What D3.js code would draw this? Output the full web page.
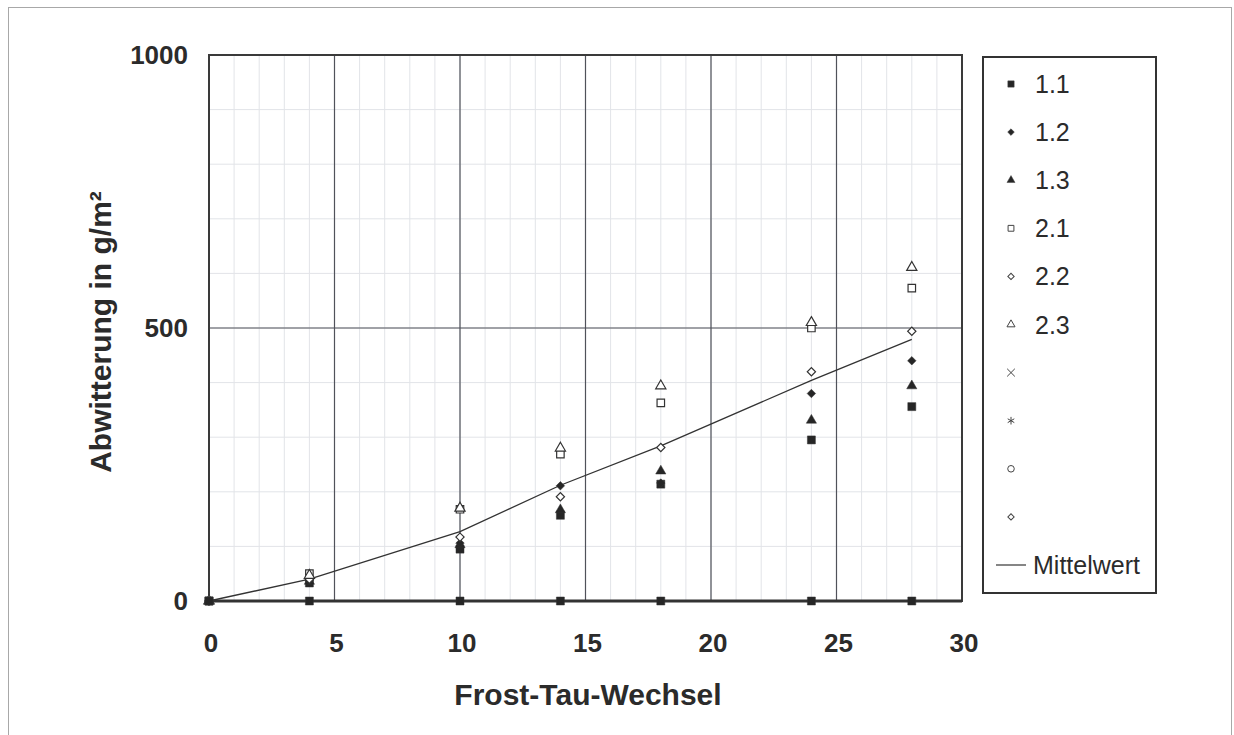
<!DOCTYPE html>
<html>
<head>
<meta charset="utf-8">
<script src="https://cdn.jsdelivr.net/npm/d3@7"></script>
<style>
  body { margin:0; background:#fff; }
  text { font-family: "Liberation Sans", Arial, sans-serif; fill:#2b2b2b; }
</style>
</head>
<body>
<svg id="chart" width="1234" height="735"></svg>
<script>
// Frost-Tau-Wechsel (x) und Abwitterung in g/m2 je Probe
var zyklen = [0, 4, 10, 14, 18, 24, 28]
var s11 = [0, 33, 95, 157, 214, 295, 356]
var s12 = [0, 37, 106, 211, 216, 380, 440]
var s13 = [0, 36, 103, 167, 238, 331, 394]
var s21 = [0, 50, 168, 269, 363, 500, 573]
var s22 = [0, 40, 117, 191, 281, 420, 494]
var s23 = [0, 47, 170, 280, 394, 510, 611]
var nullwerte = [0, 0, 0, 0, 0, 0, 0]
var mittelwert = [0, 40, 127, 212, 284, 404, 479]
var xTicks = [0, 5, 10, 15, 20, 25, 30]
var yTicks = [0, 500, 1000]
var legendNames = ["1.1", "1.2", "1.3", "2.1", "2.2", "2.3", "", "", "", ""]

var svg = d3.select("#chart")

// outer frame of the scanned page
svg.append("rect").attr("x", 8.5).attr("y", 7.5).attr("width", 1223).attr("height", 740)
  .attr("fill", "none").attr("stroke", "#a8a8a8").attr("stroke-width", 1)

var x = d3.scaleLinear().domain([0, 30]).range([209, 962])
var y = d3.scaleLinear().domain([0, 1000]).range([601, 55])

var g = svg.append("g")

// minor grid
g.selectAll(".vminor").data(d3.range(1, 30)).enter().append("line")
  .attr("x1", d => x(d)).attr("x2", d => x(d)).attr("y1", y(0)).attr("y2", y(1000))
  .attr("stroke", "#e2e4e8").attr("stroke-width", 1)
g.selectAll(".hminor").data(d3.range(100, 1000, 100)).enter().append("line")
  .attr("x1", x(0)).attr("x2", x(30)).attr("y1", d => y(d)).attr("y2", d => y(d))
  .attr("stroke", "#e2e4e8").attr("stroke-width", 1)

// major grid
g.selectAll(".vmajor").data(xTicks.slice(1, -1)).enter().append("line")
  .attr("x1", d => x(d)).attr("x2", d => x(d)).attr("y1", y(0)).attr("y2", y(1000))
  .attr("stroke", "#50525a").attr("stroke-width", 1.2)
g.selectAll(".hmajor").data(yTicks.slice(1, -1)).enter().append("line")
  .attr("x1", x(0)).attr("x2", x(30)).attr("y1", d => y(d)).attr("y2", d => y(d))
  .attr("stroke", "#50525a").attr("stroke-width", 1.2)

// plot frame
g.append("rect").attr("x", x(0)).attr("y", y(1000))
  .attr("width", x(30) - x(0)).attr("height", y(0) - y(1000))
  .attr("fill", "none").attr("stroke", "#3a3a3a").attr("stroke-width", 2)
g.append("line").attr("x1", x(0)).attr("x2", x(30)).attr("y1", y(0)).attr("y2", y(0))
  .attr("stroke", "#333").attr("stroke-width", 3)

// tick labels
svg.selectAll(".xt").data(xTicks).enter().append("text")
  .attr("x", d => x(d) + 2).attr("y", 652).attr("text-anchor", "middle")
  .style("font-size", "26px").style("font-weight", "bold")
  .text(d => d)
svg.selectAll(".yt").data(yTicks).enter().append("text")
  .attr("x", 188).attr("y", d => y(d) + 9).attr("text-anchor", "end")
  .style("font-size", "26px").style("font-weight", "bold")
  .text(d => d)

// axis titles
svg.append("text").attr("x", 588).attr("y", 705).attr("text-anchor", "middle")
  .style("font-size", "30px").style("font-weight", "bold").text("Frost-Tau-Wechsel")
svg.append("text").attr("transform", "translate(111,332) rotate(-90)").attr("text-anchor", "middle")
  .style("font-size", "30px").style("font-weight", "bold").text("Abwitterung in g/m²")

// mean line
var line = d3.line().x(d => x(d[0])).y(d => y(d[1]))
g.append("path").datum(d3.zip(zyklen, mittelwert)).attr("d", line)
  .attr("fill", "none").attr("stroke", "#333").attr("stroke-width", 1.3)

// marker styles
function marker(type, size, rotate, filled) {
  return { path: d3.symbol().type(type).size(size)(), rotate: rotate, filled: filled }
}
var series = [
  { values: s11, m: marker(d3.symbolSquare, 64, 0, true) },
  { values: s13, m: marker(d3.symbolTriangle, 45, 0, true) },
  { values: s12, m: marker(d3.symbolSquare, 36, 45, true) },
  { values: s22, m: marker(d3.symbolSquare, 34, 45, false) },
  { values: s21, m: marker(d3.symbolSquare, 56, 0, false) },
  { values: s23, m: marker(d3.symbolTriangle, 45, 0, false) },
  { values: nullwerte, m: marker(d3.symbolSquare, 64, 0, true) }
]

series.forEach(function(s) {
  g.selectAll(null).data(d3.zip(zyklen, s.values)).enter().append("path")
    .attr("d", s.m.path)
    .attr("transform", d => "translate(" + x(d[0]) + "," + y(d[1]) + ") rotate(" + s.m.rotate + ")")
    .attr("fill", s.m.filled ? "#262626" : "#fff")
    .attr("stroke", "#333").attr("stroke-width", s.m.filled ? 0.5 : 1.2)
})

// legend
var lg = svg.append("g")
lg.append("rect").attr("x", 983).attr("y", 57).attr("width", 173).attr("height", 536)
  .attr("fill", "#fff").attr("stroke", "#333").attr("stroke-width", 2)

var legendMarks = [
  marker(d3.symbolSquare, 40, 0, true),
  marker(d3.symbolSquare, 22, 45, true),
  marker(d3.symbolTriangle, 28, 0, true),
  marker(d3.symbolSquare, 34, 0, false),
  marker(d3.symbolSquare, 20, 45, false),
  marker(d3.symbolTriangle, 28, 0, false),
  marker(d3.symbolX, 40, 0, false),
  marker(d3.symbolAsterisk, 40, 0, false),
  marker(d3.symbolCircle, 34, 0, false),
  marker(d3.symbolSquare, 20, 45, false)
]
var ly = d3.scaleLinear().domain([0, 10]).range([84, 565])

lg.selectAll(".lm").data(legendMarks).enter().append("path")
  .attr("d", d => d.path)
  .attr("transform", (d, i) => "translate(1011," + ly(i) + ") rotate(" + d.rotate + ")")
  .attr("fill", d => d.filled ? "#262626" : "#fff")
  .attr("stroke", "#444").attr("stroke-width", d => d.filled ? 0.5 : 1)

lg.selectAll(".ll").data(legendNames).enter().append("text")
  .attr("x", 1035).attr("y", (d, i) => ly(i) + 9)
  .style("font-size", "25px")
  .text(d => d)

lg.append("line").attr("x1", 996).attr("x2", 1026).attr("y1", ly(10)).attr("y2", ly(10))
  .attr("stroke", "#444").attr("stroke-width", 1.3)
lg.append("text").attr("x", 1033).attr("y", ly(10) + 9)
  .style("font-size", "25px").text("Mittelwert")
</script>
</body>
</html>
